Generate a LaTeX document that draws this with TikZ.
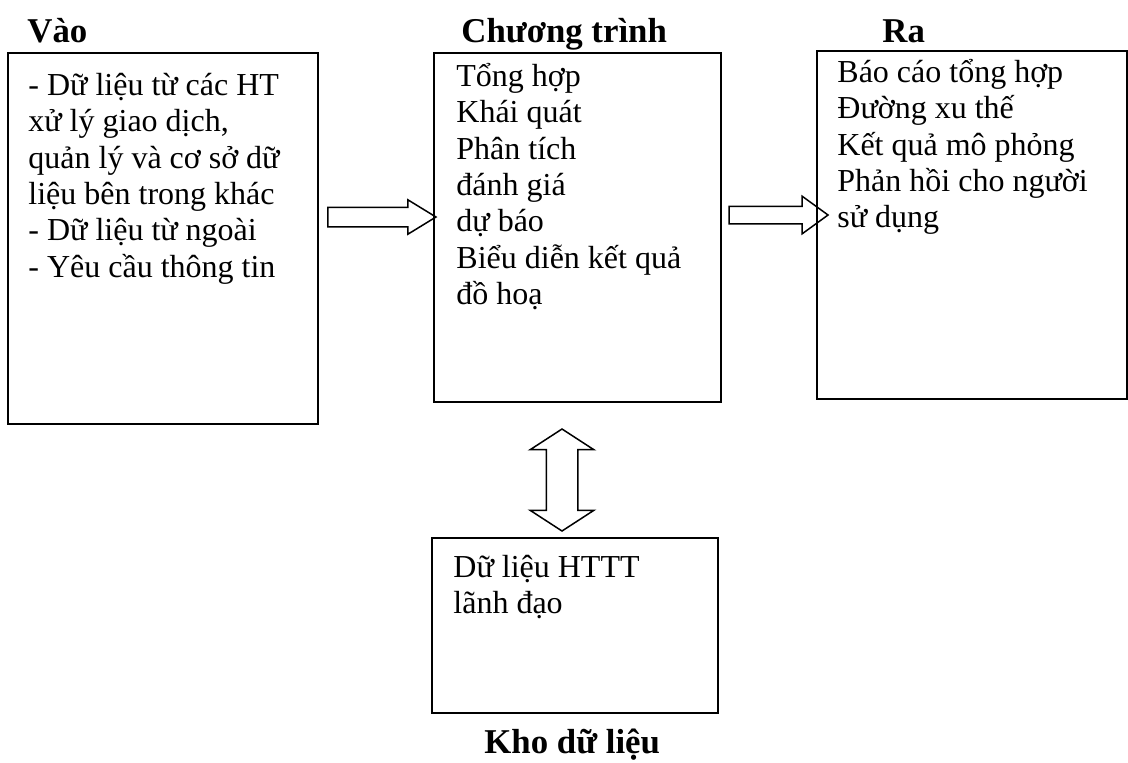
\documentclass[tikz,border=0pt]{standalone}
\usepackage{fontspec}
\setmainfont{Liberation Serif}
\usetikzlibrary{positioning, fit, shapes.arrows}
\tikzset{khung/.style={draw, line width=1pt, inner sep=0pt},
	noidung/.style={anchor=north west, align=left, inner sep=0pt, font=\fontsize{16}{18.15}\selectfont,
		execute at begin node={\rule{0pt}{15pt}}},
	tieude/.style={anchor=base west, inner sep=0pt, font=\fontsize{17.4}{20}\selectfont\bfseries},
	muiten/.style={draw, line width=0.75pt, inner xsep=0pt, minimum width=0pt}}

\begin{document}
\begin{tikzpicture}[x=0.5pt, y=-0.5pt]
\useasboundingbox (0,0) rectangle (1128,762);
	%Tieu de
	\node[tieude] (tdVao) at (27,42) {Vào};
	\node[tieude] (tdCT) at (461,42) {Chương trình};
	\node[tieude] (tdRa) at (882,42) {Ra};
	\node[tieude] (tdKho) at (484,753) {Kho dữ liệu};
	%Khung
	\node[khung, fit={(8,53) (318,424)}] (vao) {};
	\node[khung, fit={(434,53) (721,402)}] (ct) {};
	\node[khung, fit={(817,51) (1127,399)}] (ra) {};
	\node[khung, fit={(432,538) (718,713)}] (kho) {};
	%Noi dung (dong dau: duong co so = goc tren + 30)
	\node[noidung] (vaoText) at (28,73) {- Dữ liệu từ các HT\\xử lý giao dịch,\\quản lý và cơ sở dữ\\liệu bên trong khác\\- Dữ liệu từ ngoài\\- Yêu cầu thông tin};
	\node[noidung] (ctText) at (456,63) {Tổng hợp\\Khái quát\\Phân tích\\đánh giá\\dự báo\\Biểu diễn kết quả\\đồ hoạ};
	\node[noidung] (raText) at (837,59) {Báo cáo tổng hợp\\Đường xu thế\\Kết quả mô phỏng\\Phản hồi cho người\\sử dụng};
	\node[noidung] (khoText) at (453,555) {Dữ liệu HTTT\\lãnh đạo};
	%Mui ten
	\node[muiten, single arrow, minimum height=54pt, inner ysep=4.5pt,
		single arrow head extend=3.75pt, single arrow tip angle=63] (mt1) at (374,217) {};
	\node[muiten, single arrow, minimum height=49.5pt, inner ysep=4pt,
		single arrow head extend=5pt, single arrow tip angle=72] (mt2) at (772.5,215) {};
	\node[muiten, double arrow, rotate=90, minimum height=51pt, inner ysep=7.5pt,
		double arrow head extend=8pt, double arrow tip angle=114] (mt3) at (562,480) {};
\end{tikzpicture}
\end{document}
